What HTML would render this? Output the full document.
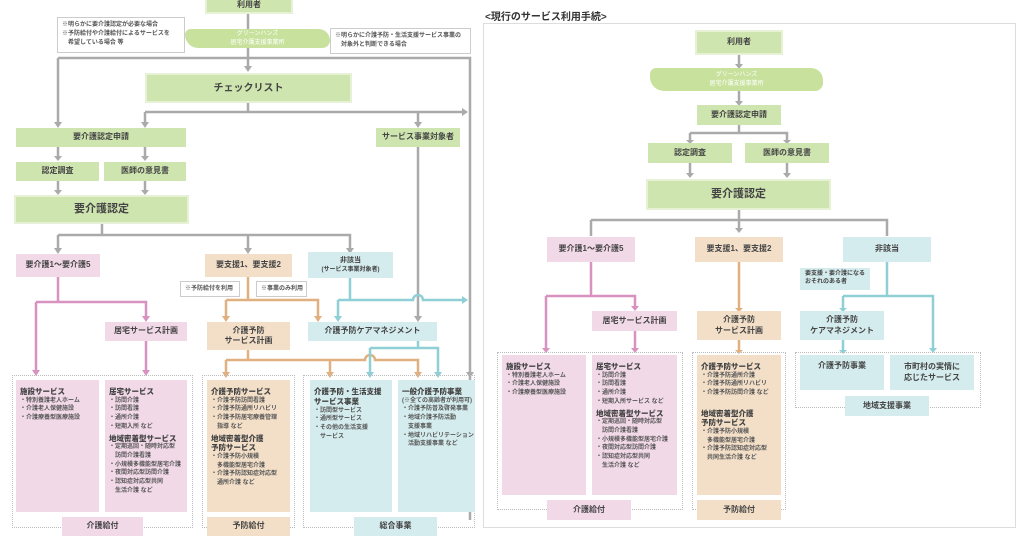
<!DOCTYPE html>
<html><head><meta charset="utf-8"><style>
*{margin:0;padding:0;box-sizing:border-box}
body{width:1024px;height:538px;background:#fff;position:relative;overflow:hidden;font-family:"Liberation Sans","Noto Sans CJK JP",sans-serif;color:#444}
.b{position:absolute;display:flex;align-items:center;justify-content:center;text-align:center;font-weight:bold;font-size:8px;line-height:1.3}
.g{background:#cfe5b0}.p{background:#f2d9e8}.o{background:#f3dfc8}.t{background:#d5ecee}
.gb{border:2px solid #e6f1d6}
.n{position:absolute;border:1px solid #ccc;background:#fff;font-size:6px;font-weight:bold;padding:3px 4px;line-height:1.5;color:#555;white-space:nowrap}
.d{position:absolute;border:1px dotted #bbb}
.l{position:absolute;font-size:6px;line-height:1.45;padding:5px 4px;font-weight:bold;color:#555;white-space:nowrap;overflow:hidden}
.l b{display:block;font-size:7.5px;line-height:1.3;color:#444;margin-top:2px}
.br{position:absolute;background:#c8e29e;border-radius:6px 12px 8px 14px;color:#fff;font-size:6px;text-align:center;line-height:1.5;display:flex;flex-direction:column;justify-content:center}
svg{position:absolute;left:0;top:0}
</style></head><body>
<svg width="1024" height="538">
<g fill="none" stroke-width="2.5">
<g stroke="#aaa">
<path d="M248 14V66M58 58H470V520M58 58V122M248 102V112M145 112H462M145 112V122M418 112V122M58 147V156M145 147V156M58 181V190M145 181V190M102 223V235M58 235H350V248M58 235V248M248 235V248M418 147V316M470 58V372"/>
<path d="M739 55V64M739 91V101M739 125V133M690 133H787V140M690 133V140M690 163V173M787 163V173M739 210V220M591 220H887V236M591 220V236M739 220V228"/>
</g>
<g stroke="#d892c0"><path d="M58 277V302M36 302H146V316M36 302V370M146 341V370M591 262V296M546 296H635V306M546 296V348M635 331V348"/></g>
<g stroke="#e0b080"><path d="M248 277V300M226 300H318V316M226 300V316M248 350V360M226 360H365A5 5 0 0 1 375 360H418V372M226 360V372M330 360V372M739 262V308M739 340V350"/></g>
<g stroke="#8fcfd6"><path d="M350 278V300M338 300H413A5 5 0 0 1 423 300H462M338 300V316M418 340V348M370 348H438V372M370 348V372M887 262V296M843 296H933V348M843 296V308M843 340V350"/></g>
</g>
<g fill="#aaa"><path d="M244 66h8l-4 6zM54 122h8l-4 6zM141 122h8l-4 6zM414 122h8l-4 6zM462 108v8l6-4zM54 156h8l-4 5zM141 156h8l-4 5zM54 190h8l-4 5zM141 190h8l-4 5zM54 248h8l-4 6zM244 248h8l-4 6zM346 248h8l-4 6zM414 316h8l-4 6zM466 372h8l-4 6zM735 64h8l-4 5zM735 101h8l-4 5zM686 140h8l-4 4zM783 140h8l-4 4zM686 173h8l-4 5zM783 173h8l-4 5zM735 228h8l-4 5z"/></g>
<g fill="#d892c0"><path d="M142 316h8l-4 6zM32 370h8l-4 6zM142 370h8l-4 6zM631 306h8l-4 5zM542 348h8l-4 5zM631 348h8l-4 5z"/></g>
<g fill="#e0b080"><path d="M222 316h8l-4 6zM314 316h8l-4 6zM222 372h8l-4 6zM326 372h8l-4 6zM414 372h8l-4 6zM735 308h8l-4 4zM735 350h8l-4 4z"/></g>
<g fill="#8fcfd6"><path d="M334 316h8l-4 6zM462 296v8l6-4zM366 372h8l-4 6zM434 372h8l-4 6zM839 308h8l-4 4zM839 350h8l-4 4zM929 348h8l-4 5z"/></g>
</svg>

<!-- LEFT -->
<div class="b g gb" style="left:205px;top:-4px;width:88px;height:18px">利用者</div>
<div class="n" style="left:57px;top:17px;width:128px;height:36px">※明らかに要介護認定が必要な場合<br>※予防給付や介護給付によるサービスを<br>　希望している場合 等</div>
<div class="br" style="left:185px;top:29px;width:145px;height:19px">グリーンハンズ<br>居宅介護支援事業所</div>
<div class="n" style="left:330px;top:28px;width:141px;height:26px">※明らかに介護予防・生活支援サービス事業の<br>　対象外と判断できる場合</div>
<div class="b g gb" style="left:145px;top:73px;width:207px;height:30px;font-size:10px">チェックリスト</div>
<div class="b g" style="left:16px;top:128px;width:170px;height:19px">要介護認定申請</div>
<div class="b g" style="left:376px;top:128px;width:84px;height:19px">サービス事業対象者</div>
<div class="b g" style="left:16px;top:162px;width:83px;height:19px">認定調査</div>
<div class="b g" style="left:104px;top:162px;width:82px;height:19px">医師の意見書</div>
<div class="b g gb" style="left:14px;top:195px;width:175px;height:29px;font-size:11px">要介護認定</div>
<div class="b p" style="left:16px;top:254px;width:84px;height:23px">要介護1～要介護5</div>
<div class="b o" style="left:205px;top:254px;width:87px;height:23px">要支援1、要支援2</div>
<div class="b t" style="left:308px;top:252px;width:85px;height:26px;font-size:7px"><div>非該当<br><span style="font-size:6px">(サービス事業対象者)</span></div></div>
<div class="n" style="left:180px;top:281px;width:60px;height:16px">※予防給付を利用</div>
<div class="n" style="left:256px;top:281px;width:51px;height:16px">※事業のみ利用</div>
<div class="b p" style="left:105px;top:322px;width:82px;height:19px">居宅サービス計画</div>
<div class="b o" style="left:207px;top:322px;width:83px;height:28px"><div>介護予防<br>サービス計画</div></div>
<div class="b t" style="left:308px;top:322px;width:129px;height:19px">介護予防ケアマネジメント</div>
<div class="d" style="left:12px;top:375px;width:181px;height:153px"></div>
<div class="d" style="left:202px;top:375px;width:93px;height:153px"></div>
<div class="d" style="left:303px;top:375px;width:172px;height:153px"></div>
<div class="l p" style="left:16px;top:380px;width:83px;height:132px"><b>施設サービス</b>・特別養護老人ホーム<br>・介護老人保健施設<br>・介護療養型医療施設</div>
<div class="l p" style="left:105px;top:380px;width:82px;height:132px"><b>居宅サービス</b>・訪問介護<br>・訪問看護<br>・通所介護<br>・短期入所 など<b>地域密着型サービス</b>・定期巡回・随時対応型<br>　訪問介護看護<br>・小規模多機能型居宅介護<br>・夜間対応型訪問介護<br>・認知症対応型共同<br>　生活介護 など</div>
<div class="l o" style="left:207px;top:380px;width:83px;height:132px"><b>介護予防サービス</b>・介護予防訪問看護<br>・介護予防通所リハビリ<br>・介護予防居宅療養管理<br>　指導 など<b>地域密着型介護<br>予防サービス</b>・介護予防小規模<br>　多機能型居宅介護<br>・介護予防認知症対応型<br>　通所介護 など</div>
<div class="l t" style="left:310px;top:380px;width:82px;height:132px"><b>介護予防・生活支援<br>サービス事業</b>・訪問型サービス<br>・通所型サービス<br>・その他の生活支援<br>　サービス</div>
<div class="l t" style="left:398px;top:380px;width:77px;height:132px"><b>一般介護予防事業</b>(※全ての高齢者が利用可)<br>・介護予防普及啓発事業<br>・地域介護予防活動<br>　支援事業<br>・地域リハビリテーション<br>　活動支援事業 など</div>
<div class="b p" style="left:62px;top:517px;width:81px;height:19px">介護給付</div>
<div class="b o" style="left:207px;top:517px;width:83px;height:19px">予防給付</div>
<div class="b t" style="left:354px;top:517px;width:83px;height:19px">総合事業</div>

<!-- RIGHT -->
<div style="position:absolute;left:485px;top:8px;font-size:10px;font-weight:bold;color:#333">&lt;現行のサービス利用手続&gt;</div>
<div style="position:absolute;left:483px;top:23px;width:533px;height:505px;border:1px solid #ddd"></div>
<div class="b g gb" style="left:695px;top:30px;width:88px;height:25px">利用者</div>
<div class="br" style="left:650px;top:68px;width:173px;height:23px">グリーンハンズ<br>居宅介護支援事業所</div>
<div class="b g" style="left:697px;top:105px;width:84px;height:20px">要介護認定申請</div>
<div class="b g" style="left:648px;top:143px;width:84px;height:20px">認定調査</div>
<div class="b g" style="left:745px;top:143px;width:84px;height:20px">医師の意見書</div>
<div class="b g gb" style="left:646px;top:179px;width:185px;height:31px;font-size:11px">要介護認定</div>
<div class="b p" style="left:547px;top:237px;width:88px;height:25px">要介護1～要介護5</div>
<div class="b o" style="left:695px;top:237px;width:88px;height:25px">要支援1、要支援2</div>
<div class="b t" style="left:843px;top:237px;width:88px;height:25px">非該当</div>
<div class="b t" style="left:800px;top:268px;width:70px;height:22px;font-size:6px;justify-content:flex-start;padding-left:5px"><div style="text-align:left">要支援・要介護になる<br>おそれのある者</div></div>
<div class="b p" style="left:592px;top:311px;width:85px;height:20px">居宅サービス計画</div>
<div class="b o" style="left:697px;top:311px;width:84px;height:29px"><div>介護予防<br>サービス計画</div></div>
<div class="b t" style="left:800px;top:311px;width:84px;height:29px"><div>介護予防<br>ケアマネジメント</div></div>
<div class="d" style="left:497px;top:352px;width:186px;height:158px"></div>
<div class="d" style="left:692px;top:352px;width:94px;height:158px"></div>
<div class="d" style="left:795px;top:352px;width:186px;height:56px"></div>
<div class="l p" style="left:502px;top:355px;width:84px;height:140px"><b>施設サービス</b>・特別養護老人ホーム<br>・介護老人保健施設<br>・介護療養型医療施設</div>
<div class="l p" style="left:592px;top:355px;width:85px;height:140px"><b>居宅サービス</b>・訪問介護<br>・訪問看護<br>・通所介護<br>・短期入所サービス など<b>地域密着型サービス</b>・定期巡回・随時対応型<br>　訪問介護看護<br>・小規模多機能型居宅介護<br>・夜間対応型訪問介護<br>・認知症対応型共同<br>　生活介護 など</div>
<div class="l o" style="left:697px;top:355px;width:84px;height:140px"><b>介護予防サービス</b>・介護予防通所介護<br>・介護予防通所リハビリ<br>・介護予防訪問介護 など<br><br><b>地域密着型介護<br>予防サービス</b>・介護予防小規模<br>　多機能型居宅介護<br>・介護予防認知症対応型<br>　共同生活介護 など</div>
<div class="b t" style="left:800px;top:355px;width:84px;height:35px;align-items:flex-start;padding-top:6px">介護予防事業</div>
<div class="b t" style="left:890px;top:355px;width:84px;height:35px"><div>市町村の実情に<br>応じたサービス</div></div>
<div class="b p" style="left:547px;top:500px;width:84px;height:20px">介護給付</div>
<div class="b o" style="left:697px;top:500px;width:84px;height:20px">予防給付</div>
<div class="b t" style="left:845px;top:396px;width:84px;height:20px">地域支援事業</div>
</body></html>
